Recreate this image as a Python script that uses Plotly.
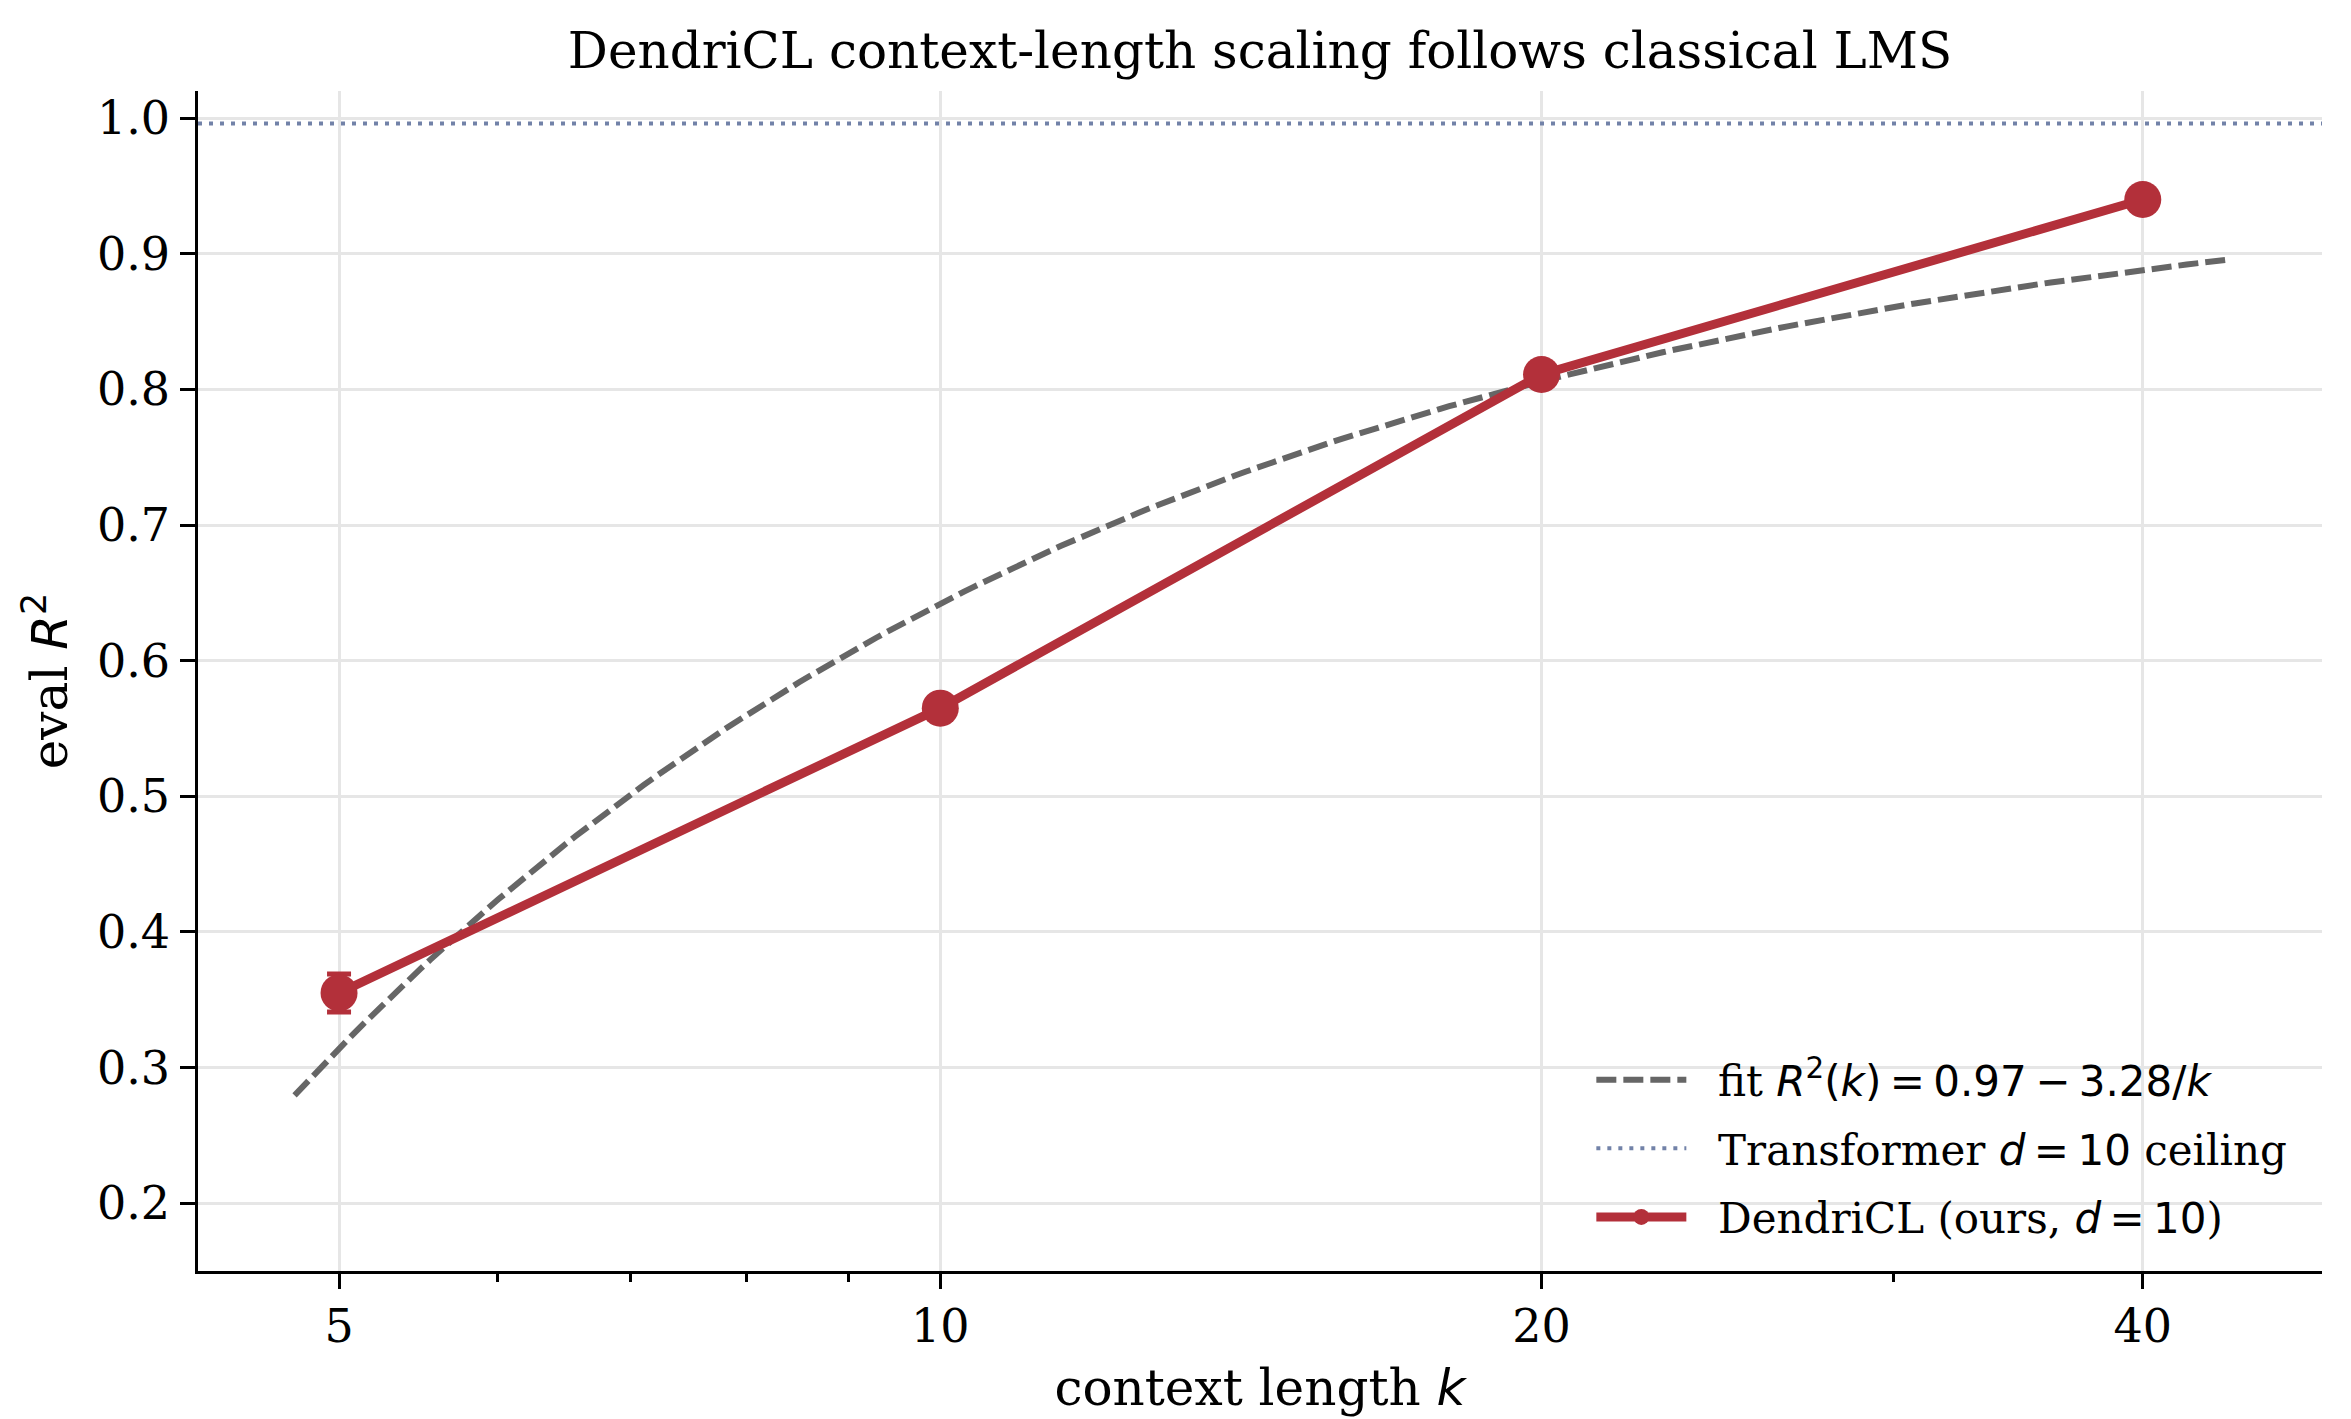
import numpy as np
import plotly.graph_objects as go

# ---------------- data ----------------
K = [5, 10, 20, 40]
R2 = [0.355, 0.565, 0.811, 0.940]
R2_ERR = [0.014, 0.006, 0.005, 0.004]
FIT_A = 0.97
FIT_B = 3.28
FIT_KMIN = 4.75
FIT_KMAX = 44.0
CEILING = 0.996
X_TICKS = [5, 10, 20, 40]
X_MINOR = [6, 7, 8, 9, 30]
Y_TICKS = [0.2, 0.3, 0.4, 0.5, 0.6, 0.7, 0.8, 0.9, 1.0]

RED = "#B3303A"
GRAY = "#666666"
BLUE = "#7282A8"
SERIF = "DejaVu Serif"
MATH = "DejaVu Sans"
NB = "\u00a0\u00a0"
TS = "\u2009"

k_fit = np.geomspace(FIT_KMIN, FIT_KMAX, 200)
r2_fit = FIT_A - FIT_B / k_fit

def m(s, italic=True):
    style = f"font-family:{MATH};" + ("font-style:italic;" if italic else "")
    return f'<span style="{style}">{s}</span>'

fig = go.Figure()

fig.add_trace(go.Scatter(
    x=k_fit, y=r2_fit, mode="lines",
    line=dict(color=GRAY, width=6, dash="20px,7px"),
    name=NB + "fit " + m("R") + m("<sup>2</sup>", False) + m("(", False) + m("k")
         + m(f"){TS}={TS}0.97{TS}−{TS}3.28/", False) + m("k"),
    legendrank=1, legendgroup="a",
))

fig.add_trace(go.Scatter(
    x=[None], y=[None], mode="lines",
    line=dict(color=BLUE, width=4, dash="4px,7px"),
    name=NB + "Transformer " + m("d") + m(f"{TS}={TS}10", False) + " ceiling",
    legendrank=2, legendgroup="b",
))

fig.add_trace(go.Scatter(
    x=K, y=R2, mode="lines+markers",
    line=dict(color=RED, width=9),
    marker=dict(color=RED, size=37),
    error_y=dict(type="data", array=R2_ERR, color=RED, thickness=5, width=12),
    name=NB + "DendriCL (ours, " + m("d") + m(f"{TS}={TS}10", False) + ")",
    legendrank=3, legendgroup="c",
))

fig.add_hline(y=CEILING, line=dict(color=BLUE, width=4, dash="4px,7px"))

lo = np.log10(FIT_KMIN)
hi = np.log10(FIT_KMAX)
pad = 0.05 * (hi - lo)

axis_common = dict(
    showline=True, linecolor="black", linewidth=3.3,
    ticks="outside", ticklen=14.6, tickwidth=3.3, tickcolor="black",
    showgrid=True, gridcolor="#e6e6e6", gridwidth=3,
    zeroline=False, mirror=False,
    tickfont=dict(family=SERIF, size=46, color="black"),
)

fig.update_xaxes(
    type="log", range=[lo - pad, hi + pad],
    tickvals=X_TICKS, ticktext=[str(v) for v in X_TICKS],
    minor=dict(tickvals=X_MINOR, ticklen=8.3, tickwidth=2.5, tickcolor="black",
               ticks="outside", showgrid=False),
    ticklabelstandoff=-2,
    title=dict(text="context length " + m("k"), font=dict(family=SERIF, size=50, color="black"),
               standoff=19),
    **axis_common,
)
fig.update_yaxes(
    range=[0.15, 1.02],
    tickvals=Y_TICKS, tickformat=".1f",
    ticklabelstandoff=1,
    title=dict(text="eval " + m("R") + m("<sup>2</sup>", False), font=dict(family=SERIF, size=50, color="black"),
               standoff=14),
    **axis_common,
)

fig.update_layout(
    width=2351, height=1419,
    margin=dict(l=198, r=29, t=91, b=141),
    paper_bgcolor="white", plot_bgcolor="white",
    font=dict(family=SERIF, size=42, color="black"),
    title=dict(text="DendriCL context-length scaling follows classical LMS",
               x=0.5, xref="paper", xanchor="center",
               y=1 - 50 / 1419, yref="container", yanchor="middle",
               font=dict(family=SERIF, size=50, color="black")),
    legend=dict(x=0.656, y=0.017, xanchor="left", yanchor="bottom",
                bgcolor="rgba(0,0,0,0)", borderwidth=0,
                font=dict(family=SERIF, size=42, color="black"),
                itemwidth=90, tracegroupgap=11, traceorder="grouped"),
    showlegend=True,
)

fig.write_html("out.html")
